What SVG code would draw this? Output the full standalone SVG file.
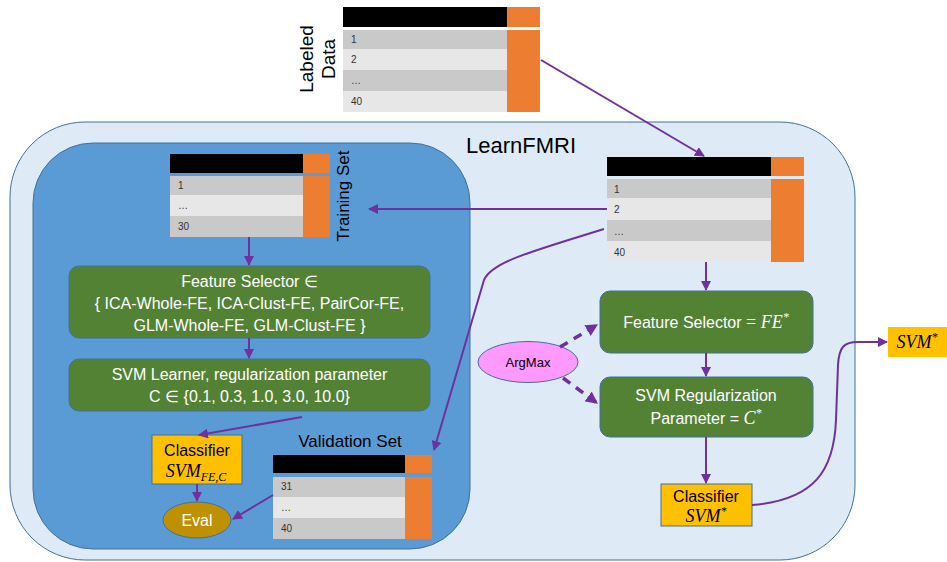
<svg xmlns="http://www.w3.org/2000/svg" width="947" height="562" viewBox="0 0 947 562">
<defs>
<style>
.sans{font-family:"Liberation Sans","Noto Sans",Arial,sans-serif}
.math{font-family:"Liberation Serif","DejaVu Serif",serif;font-style:italic}
.hdr{fill:#000}
.or{fill:#ED7D31}
.dk{fill:#C9C9C9}
.lt{fill:#E7E7E7}
.rt{font-family:"Liberation Sans",Arial,sans-serif;font-size:10px;fill:#333}
.green{fill:#548235;stroke:#41719C;stroke-width:1}
.wt{fill:#fff;font-family:"Liberation Sans",Arial,sans-serif;font-size:16px;text-anchor:middle}
.gold{fill:#FFC000;stroke:#41719C;stroke-width:1}
.conn{fill:none;stroke:#7030A0;stroke-width:2}
.dash{fill:none;stroke:#7030A0;stroke-width:3.5;stroke-dasharray:9 7}
</style>
<marker id="ah" viewBox="0 0 10 10" refX="9" refY="5" markerWidth="5" markerHeight="5" orient="auto" markerUnits="strokeWidth">
<path d="M0,0 L10,5 L0,10 z" fill="#7030A0"/>
</marker>
<marker id="ahd" viewBox="0 0 10 10" refX="9" refY="5" markerWidth="3.5" markerHeight="3.5" orient="auto" markerUnits="strokeWidth">
<path d="M0,0 L10,5 L0,10 z" fill="#7030A0"/>
</marker>
</defs>
<rect x="0" y="0" width="947" height="562" fill="#fff"/>

<g id="learnfmri">
<rect x="10" y="122" width="845" height="438" rx="75" ry="75" fill="#DEEBF7" stroke="#41719C" stroke-width="1"/>
<text x="521" y="153" class="sans" font-size="22" text-anchor="middle" fill="#000">LearnFMRI</text>
</g>

<g id="inner">
<rect x="33" y="143" width="437" height="406" rx="60" ry="60" fill="#5B9BD5" stroke="#41719C" stroke-width="1"/>
</g>

<g id="labeled-data">
<rect class="hdr" x="343" y="7" width="164" height="20"/>
<rect class="or" x="507" y="7" width="33" height="20"/>
<rect class="dk" x="343" y="30" width="164" height="19"/>
<rect class="lt" x="343" y="49" width="164" height="21"/>
<rect class="dk" x="343" y="70" width="164" height="21"/>
<rect class="lt" x="343" y="91" width="164" height="21"/>
<rect class="or" x="507" y="30" width="33" height="82"/>
<text class="rt" x="351" y="43">1</text>
<text class="rt" x="351" y="63">2</text>
<text class="rt" x="351" y="84">…</text>
<text class="rt" x="351" y="105">40</text>
<text class="sans" font-size="19" text-anchor="middle" fill="#000" transform="translate(306.5,59) rotate(-90)" dominant-baseline="central">Labeled</text>
<text class="sans" font-size="19" text-anchor="middle" fill="#000" transform="translate(328.5,59) rotate(-90)" dominant-baseline="central">Data</text>
</g>

<g id="main-table">
<rect class="hdr" x="607" y="157" width="164" height="19"/>
<rect class="or" x="771" y="157" width="33" height="19"/>
<rect class="dk" x="607" y="179" width="164" height="19"/>
<rect class="lt" x="607" y="198" width="164" height="22"/>
<rect class="dk" x="607" y="220" width="164" height="21"/>
<rect class="lt" x="607" y="241" width="164" height="21"/>
<rect class="or" x="771" y="179" width="33" height="83"/>
<text class="rt" x="614" y="193">1</text>
<text class="rt" x="614" y="213">2</text>
<text class="rt" x="614" y="235">…</text>
<text class="rt" x="614" y="256">40</text>
</g>

<g id="training-set">
<rect class="hdr" x="170" y="154" width="133" height="19"/>
<rect class="or" x="303" y="154" width="27" height="19"/>
<rect class="dk" x="170" y="176" width="133" height="19"/>
<rect class="lt" x="170" y="195" width="133" height="21"/>
<rect class="dk" x="170" y="216" width="133" height="21"/>
<rect class="or" x="303" y="176" width="27" height="61"/>
<text class="rt" x="178" y="189">1</text>
<text class="rt" x="178" y="209">…</text>
<text class="rt" x="178" y="230">30</text>
<text class="sans" font-size="17" text-anchor="middle" fill="#000" transform="translate(343,196) rotate(-90)" dominant-baseline="central">Training Set</text>
</g>

<g id="validation-set">
<text x="350" y="447" class="sans" font-size="17" text-anchor="middle" fill="#000">Validation Set</text>
<rect class="hdr" x="273" y="455" width="132" height="18"/>
<rect class="or" x="405" y="455" width="27" height="18"/>
<rect class="dk" x="273" y="477" width="132" height="20"/>
<rect class="lt" x="273" y="497" width="132" height="21"/>
<rect class="dk" x="273" y="518" width="132" height="21"/>
<rect class="or" x="405" y="477" width="27" height="62"/>
<text class="rt" x="281" y="490">31</text>
<text class="rt" x="281" y="511">…</text>
<text class="rt" x="281" y="532">40</text>
</g>

<g id="feature-selector-set">
<rect class="green" x="69" y="266" width="361" height="72" rx="10" ry="10"/>
<text class="wt" x="249.5" y="287">Feature Selector ∈</text>
<text class="wt" x="249.5" y="309">{ ICA-Whole-FE, ICA-Clust-FE, PairCor-FE,</text>
<text class="wt" x="249.5" y="331">GLM-Whole-FE, GLM-Clust-FE }</text>
</g>

<g id="svm-learner">
<rect class="green" x="69" y="359" width="361" height="52" rx="10" ry="10"/>
<text class="wt" x="249.5" y="380">SVM Learner, regularization parameter</text>
<text class="wt" x="249.5" y="402">C ∈ {0.1, 0.3, 1.0, 3.0, 10.0}</text>
</g>

<g id="classifier-fec">
<rect class="gold" x="152" y="435" width="90" height="49"/>
<text x="197" y="456" class="sans" font-size="16" text-anchor="middle" fill="#000">Classifier</text>
<text x="196" y="477" text-anchor="middle" fill="#000" class="math" font-size="18">SVM<tspan font-size="12" dy="4">FE,C</tspan></text>
</g>

<g id="eval">
<ellipse cx="197" cy="520" rx="34" ry="18" fill="#BF9000" stroke="#41719C" stroke-width="1"/>
<text x="197" y="526" class="sans" font-size="16" text-anchor="middle" fill="#fff">Eval</text>
</g>

<g id="feature-selector-best">
<rect class="green" x="600" y="291" width="213" height="62" rx="10" ry="10"/>
<text x="706" y="328" text-anchor="middle" fill="#fff" font-size="16"><tspan class="sans">Feature Selector </tspan><tspan font-family="Liberation Serif,serif" font-size="18">= </tspan><tspan class="math" font-size="18">FE</tspan><tspan class="math" font-size="12" dy="-7">*</tspan></text>
</g>

<g id="svm-reg">
<rect class="green" x="600" y="377" width="213" height="60" rx="10" ry="10"/>
<text class="wt" x="706" y="401">SVM Regularization</text>
<text x="706" y="424" text-anchor="middle" fill="#fff" font-size="16"><tspan class="sans">Parameter = </tspan><tspan class="math" font-size="18">C</tspan><tspan class="math" font-size="12" dy="-7">*</tspan></text>
</g>

<g id="argmax">
<ellipse cx="528" cy="362" rx="50" ry="20.5" fill="#FF99FF" stroke="#41719C" stroke-width="1"/>
<text x="528" y="367" class="sans" font-size="13" text-anchor="middle" fill="#000">ArgMax</text>
</g>

<g id="classifier-best">
<rect class="gold" x="661" y="484" width="91" height="42"/>
<text x="706" y="502" class="sans" font-size="16" text-anchor="middle" fill="#000">Classifier</text>
<text x="706" y="522" text-anchor="middle" fill="#000"><tspan class="math" font-size="18">SVM</tspan><tspan class="math" font-size="12" dy="-7">*</tspan></text>
</g>

<g id="svm-best">
<rect x="888" y="327" width="59" height="30" fill="#FFC000"/>
<text x="917" y="348" text-anchor="middle" fill="#000"><tspan class="math" font-size="18">SVM</tspan><tspan class="math" font-size="12" dy="-7">*</tspan></text>
</g>

<g id="connectors">
<path class="conn" d="M541,60 L704,156" marker-end="url(#ah)"/>
<path class="conn" d="M607,209 L369,209" marker-end="url(#ah)"/>
<path class="conn" d="M604,229 C530,252 492,262 484,280 L434,450" marker-end="url(#ah)"/>
<path class="conn" d="M249,237 L249,265" marker-end="url(#ah)"/>
<path class="conn" d="M249,338 L249,358" marker-end="url(#ah)"/>
<path class="conn" d="M302,417 L199,435" marker-end="url(#ah)"/>
<path class="conn" d="M197,484 L197,501" marker-end="url(#ah)"/>
<path class="conn" d="M273,495 L233,519" marker-end="url(#ah)"/>
<path class="conn" d="M706,262 L706,290" marker-end="url(#ah)"/>
<path class="conn" d="M706,353 L706,376" marker-end="url(#ah)"/>
<path class="conn" d="M706,437 L706,483" marker-end="url(#ah)"/>
<path class="conn" d="M752,505 C815,500 834,470 836,420 L838,365 C839,347 844,342 858,342 L887,342" marker-end="url(#ah)"/>
<path class="dash" d="M560,347 L597,325" marker-end="url(#ahd)"/>
<path class="dash" d="M563,378 L597,403" marker-end="url(#ahd)"/>
</g>
</svg>
